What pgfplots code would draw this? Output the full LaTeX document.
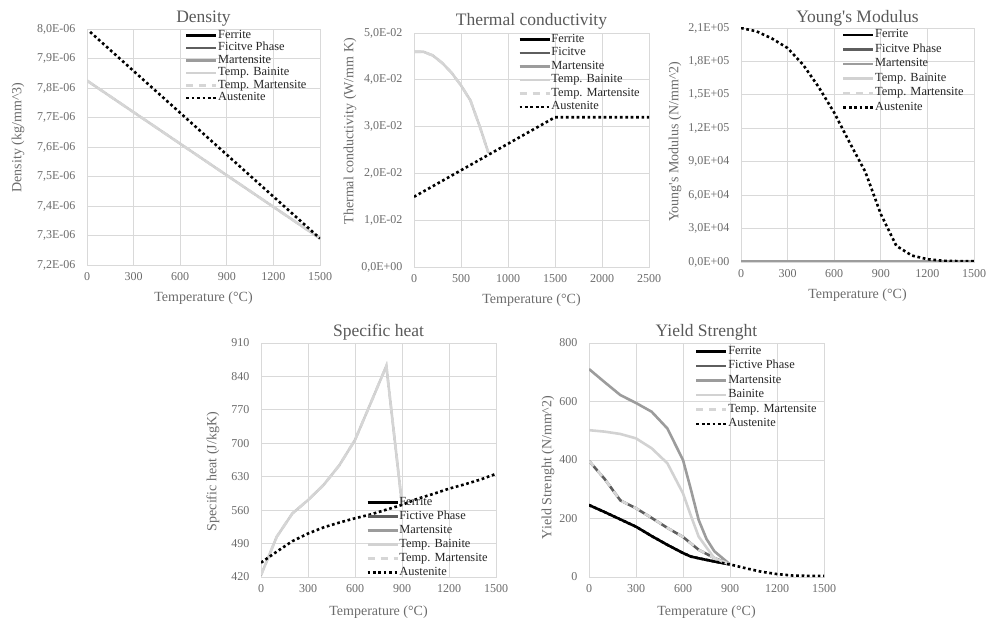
\documentclass[border=0pt]{standalone}
\usepackage{fontspec}
\setmainfont{Liberation Serif}
\usepackage{pgfplots}
\pgfplotsset{compat=1.18}
\definecolor{ficC}{HTML}{5E5E5E}
\definecolor{marC}{HTML}{9C9C9C}
\definecolor{baiC}{HTML}{D2D2D2}
\definecolor{tmaC}{HTML}{D6D6D6}
\definecolor{gridC}{HTML}{D9D9D9}
\definecolor{tickC}{HTML}{6B6B6B}
\definecolor{titleC}{HTML}{595959}
\definecolor{legC}{HTML}{262626}
\pgfplotsset{
  myax/.style={
    scale only axis,
    anchor=south west,
    axis line style={gridC, line width=0.8pt},
    grid=major, major grid style={gridC, line width=0.8pt},
    major tick length=0pt,
    scaled y ticks=false, scaled x ticks=false,
    tick label style={font=\fontsize{12}{14}\selectfont, text=tickC},
    /pgf/number format/assume math mode=true,
    /pgf/number format/1000 sep={},
    label style={font=\fontsize{14}{16}\selectfont, text=tickC},
    every axis title/.style={at={(0.5,1)}, anchor=base, yshift=7pt, font=\fontsize{17.5}{20}\selectfont, text=titleC},
    xlabel={Temperature (°C)},
    xlabel style={at={(axis description cs:0.5,-0.14)}, anchor=center},
    xticklabel style={yshift=-4pt},
    yticklabel style={xshift=-8pt},
    legend cell align=left,
    legend style={draw=none, fill=none, anchor=north west, font=\fontsize{12.4}{13}\selectfont, text=legC, inner sep=0pt, row sep=0pt, column sep=0pt, nodes={inner sep=0.5pt, text height=8.5pt, text depth=3pt}},
    legend image code/.code={\draw[#1] (0pt,0pt) -- (30pt,0pt);},
  },
  fer/.style={black, line width=2.6pt},
  fic/.style={ficC, line width=2.6pt},
  mar/.style={marC, line width=2.6pt},
  bai/.style={baiC, line width=2.6pt},
  tma/.style={tmaC, line width=2.6pt, dash pattern=on 7pt off 6pt},
  aus/.style={black, line width=2.6pt, dash pattern=on 2.7pt off 2.7pt},
  under/.style={line width=1.4pt, forget plot},
}
\begin{document}
\begin{tikzpicture}
\useasboundingbox (0pt,0pt) rectangle (992pt,619pt);
% ---------------- Density ----------------
\begin{axis}[myax, at={(87pt,354pt)}, width=233pt, height=236pt,
  xmin=0, xmax=1500, xtick={0,300,600,900,1200,1500},
  ymin=7.2e-6, ymax=8.0e-6,
  ytick={7.2e-6,7.3e-6,7.4e-6,7.5e-6,7.6e-6,7.7e-6,7.8e-6,7.9e-6,8.0e-6},
  yticklabels={{7,2E-06},{7,3E-06},{7,4E-06},{7,5E-06},{7,6E-06},{7,7E-06},{7,8E-06},{7,9E-06},{8,0E-06}},
  title={Density}, title style={yshift=-1pt},
  ylabel={Density (kg/mm\textasciicircum 3)},
  ylabel style={at={(axis description cs:-0.296,0.54)}, anchor=center},
  legend style={at={(0.42,1.0)}}]
\addplot[fer, under] coordinates {(0,7.825e-6) (1500,7.29e-6)};
\addplot[fic, under] coordinates {(0,7.825e-6) (1500,7.29e-6)};
\addplot[mar, under] coordinates {(0,7.825e-6) (1500,7.29e-6)};
\addplot[bai, forget plot] coordinates {(0,7.825e-6) (1500,7.29e-6)};
\addplot[tma, forget plot] coordinates {(0,7.825e-6) (1500,7.29e-6)};
\addplot[aus, forget plot] coordinates {(20,7.99e-6) (1500,7.29e-6)};
\addlegendimage{fer}\addlegendimage{fic}\addlegendimage{mar}
\addlegendimage{bai}\addlegendimage{tma}\addlegendimage{aus}
\legend{Ferrite, Ficitve Phase, Martensite, Temp. Bainite, Temp. Martensite, Austenite}
\end{axis}
% ---------------- Thermal conductivity ----------------
\begin{axis}[myax, at={(414pt,352pt)}, width=235pt, height=234pt,
  xmin=0, xmax=2500, xtick={0,500,1000,1500,2000,2500},
  ymin=0, ymax=0.05, ytick={0,0.01,0.02,0.03,0.04,0.05},
  yticklabels={{0,0E+00},{1,0E-02},{2,0E-02},{3,0E-02},{4,0E-02},{5,0E-02}},
  title={Thermal conductivity}, title style={yshift=1pt},
  ylabel={Thermal conductivity (W/mm K)},
  ylabel style={at={(axis description cs:-0.272,0.58)}, anchor=center},
  legend style={at={(0.443,1.0)}, row sep=1pt}]
\addplot[fer, under] coordinates {(0,0.046) (100,0.046) (200,0.0452) (300,0.0436) (400,0.0415) (500,0.0388) (600,0.0356) (700,0.0300) (790,0.0245)};
\addplot[fic, under] coordinates {(0,0.046) (100,0.046) (200,0.0452) (300,0.0436) (400,0.0415) (500,0.0388) (600,0.0356) (700,0.0300) (790,0.0245)};
\addplot[mar, under] coordinates {(0,0.046) (100,0.046) (200,0.0452) (300,0.0436) (400,0.0415) (500,0.0388) (600,0.0356) (700,0.0300) (790,0.0245)};
\addplot[bai, forget plot] coordinates {(0,0.046) (100,0.046) (200,0.0452) (300,0.0436) (400,0.0415) (500,0.0388) (600,0.0356) (700,0.0300) (790,0.0245)};
\addplot[tma, forget plot] coordinates {(0,0.046) (100,0.046) (200,0.0452) (300,0.0436) (400,0.0415) (500,0.0388) (600,0.0356) (700,0.0300) (790,0.0245)};
\addplot[aus, forget plot] coordinates {(0,0.015) (1500,0.032) (2500,0.032)};
\addlegendimage{fer}\addlegendimage{fic}\addlegendimage{mar}
\addlegendimage{bai}\addlegendimage{tma}\addlegendimage{aus}
\legend{Ferrite, Ficitve, Martensite, Temp. Bainite, Temp. Martensite, Austenite}
\end{axis}
% ---------------- Young's Modulus ----------------
\begin{axis}[myax, at={(741pt,357pt)}, width=233pt, height=234pt,
  xmin=0, xmax=1500, xtick={0,300,600,900,1200,1500},
  ymin=0, ymax=210000, ytick={0,30000,60000,90000,120000,150000,180000,210000},
  yticklabels={{0,0E+00},{3,0E+04},{6,0E+04},{9,0E+04},{1,2E+05},{1,5E+05},{1,8E+05},{2,1E+05}},
  title={Young\textquotesingle s Modulus}, title style={yshift=-2pt},
  ylabel={Young\textquotesingle s Modulus (N/mm\textasciicircum 2)},
  ylabel style={at={(axis description cs:-0.283,0.514)}, anchor=center},
  legend style={at={(0.433,0.998)}, row sep=2pt}]
\addplot[fer, under] coordinates {(0,700) (1500,700)};
\addplot[fic, under] coordinates {(0,700) (1500,700)};
\addplot[mar, forget plot] coordinates {(0,700) (1500,700)};
\addplot[aus, forget plot] coordinates {(0,210000) (100,207000) (200,200500) (300,192000) (400,177000) (500,157000) (600,134000) (700,107000) (800,81000) (900,43000) (1000,14500) (1100,5800) (1200,2500) (1300,1100) (1400,800) (1500,800)};
\addlegendimage{fer}\addlegendimage{fic}\addlegendimage{mar}
\addlegendimage{bai}\addlegendimage{tma}\addlegendimage{aus}
\legend{Ferrite, Ficitve Phase, Martensite, Temp. Bainite, Temp. Martensite, Austenite}
\end{axis}
% ---------------- Specific heat ----------------
\begin{axis}[myax, at={(261pt,42pt)}, width=235pt, height=234pt,
  xmin=0, xmax=1500, xtick={0,300,600,900,1200,1500},
  ymin=420, ymax=910, ytick={420,490,560,630,700,770,840,910},
  title={Specific heat},
  ylabel={Specific heat (J/kgK)},
  ylabel style={at={(axis description cs:-0.204,0.45)}, anchor=center},
  xlabel style={at={(axis description cs:0.5,-0.148)}},
  legend style={at={(0.447,0.345)}, row sep=1.5pt}]
\addplot[fer, under] coordinates {(0,424) (100,504) (200,553) (300,581) (400,613) (500,654) (600,707) (700,784) (800,862) (900,572)};
\addplot[fic, under] coordinates {(0,424) (100,504) (200,553) (300,581) (400,613) (500,654) (600,707) (700,784) (800,862) (900,572)};
\addplot[mar, under] coordinates {(0,424) (100,504) (200,553) (300,581) (400,613) (500,654) (600,707) (700,784) (800,862) (900,572)};
\addplot[bai, forget plot] coordinates {(0,424) (100,504) (200,553) (300,581) (400,613) (500,654) (600,707) (700,784) (800,862) (900,572)};
\addplot[tma, forget plot] coordinates {(0,424) (100,504) (200,553) (300,581) (400,613) (500,654) (600,707) (700,784) (800,862) (900,572)};
\addplot[aus, forget plot] coordinates {(0,450) (100,473) (200,495) (300,511) (400,524) (500,534) (600,543) (700,551) (800,561) (900,571) (1000,584) (1100,594) (1200,605) (1300,614) (1400,624) (1500,636)};
\addlegendimage{fer}\addlegendimage{fic}\addlegendimage{mar}
\addlegendimage{bai}\addlegendimage{tma}\addlegendimage{aus}
\legend{Ferrite, Fictive Phase, Martensite, Temp. Bainite, Temp. Martensite, Austenite}
\end{axis}
% ---------------- Yield Strenght ----------------
\begin{axis}[myax, at={(589pt,42pt)}, width=235pt, height=234pt,
  xmin=0, xmax=1500, xtick={0,300,600,900,1200,1500},
  ymin=0, ymax=800, ytick={0,200,400,600,800},
  title={Yield Strenght},
  ylabel={Yield Strenght (N/mm\textasciicircum 2)},
  ylabel style={at={(axis description cs:-0.174,0.468)}, anchor=center},
  xlabel style={at={(axis description cs:0.5,-0.148)}},
  legend style={at={(0.451,0.992)}, row sep=2pt}]
\addplot[fer] coordinates {(0,246) (100,222) (200,197) (300,172) (400,140) (500,110) (600,82) (650,70) (700,64) (800,53) (900,43)};
\addplot[fic] coordinates {(0,397) (100,335) (200,262) (300,235) (400,202) (500,168) (600,137) (700,93) (800,65) (900,43)};
\addplot[mar] coordinates {(0,711) (100,666) (200,622) (300,595) (400,565) (500,508) (600,400) (650,300) (700,195) (750,130) (800,88) (900,43)};
\addplot[bai] coordinates {(0,502) (100,497) (200,489) (300,474) (400,440) (500,389) (600,286) (650,210) (700,138) (800,64) (900,43)};
\addplot[tma] coordinates {(0,397) (100,335) (200,262) (300,235) (400,202) (500,168) (600,137) (700,93) (800,65) (900,43)};
\addplot[aus] coordinates {(0,246) (100,222) (200,197) (300,172) (400,140) (500,110) (600,82) (650,70) (700,64) (800,53) (900,43) (1000,30) (1100,18) (1200,10) (1300,5) (1400,4) (1500,4)};
\legend{Ferrite, Fictive Phase, Martensite, Bainite, Temp. Martensite, Austenite}
\end{axis}
\end{tikzpicture}
\end{document}
